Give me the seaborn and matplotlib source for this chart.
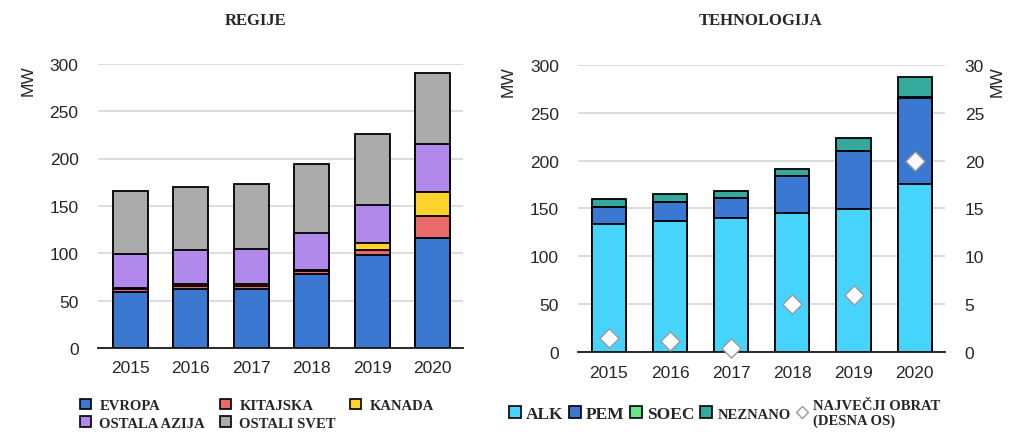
import numpy as np
import pandas as pd
import seaborn as sns
import matplotlib.pyplot as plt
from matplotlib.patches import Patch
from matplotlib.lines import Line2D

years = ['2015', '2016', '2017', '2018', '2019', '2020']

# Installed capacity by region (MW)
evropa = [59, 62, 62, 78, 98.5, 116.5]
kitajska = [3, 3, 3, 3, 5.3, 23.2]
kanada = [1, 2, 2, 1.5, 6.6, 25]
ostala_azija = [36.2, 36, 37, 38.3, 40.5, 50.3]
ostali_svet = [66, 66.5, 69, 73.6, 75, 75.6]

# Installed capacity by technology (MW)
alk = [134, 137, 140.5, 145.5, 149.5, 176]
pem = [18, 20, 20, 38, 60.8, 89]
soec = [0, 0, 0, 0, 0, 1]
neznano = [7.5, 7.7, 7.7, 7.7, 12.8, 21]

# Largest single plant (MW, right axis)
najvecji = [1.5, 1.2, 0.45, 5, 6, 20]

region_names = ['EVROPA', 'KITAJSKA', 'KANADA', 'OSTALA AZIJA', 'OSTALI SVET']
region_colors = ['#3B78D1', '#E86B6A', '#FDD22B', '#B189EB', '#ABABAB']
tech_names = ['ALK', 'PEM', 'SOEC', 'NEZNANO']
tech_colors = ['#46D4FD', '#3B78D1', '#67E38E', '#35AA9C']

sns.set_theme(style='white')
plt.rcParams['font.family'] = ['Liberation Sans', 'DejaVu Sans']

fig = plt.figure(figsize=(10.11, 4.35), dpi=100)
ax1 = fig.add_axes([0.097, 0.198, 0.361, 0.653])
ax2 = fig.add_axes([0.572, 0.1885, 0.363, 0.660])

text_col = '#262626'
grid_col = '#D9D9D9'


def stacked(ax, series, colors, width):
    df = pd.DataFrame(np.array(series).T, index=years)
    cum = df.cumsum(axis=1)
    # draw cumulative totals from the top down so lower segments overlay
    for i in range(len(series) - 1, -1, -1):
        sns.barplot(x=years, y=cum[i].values, color=colors[i], saturation=1,
                    edgecolor='black', linewidth=1.3, width=width, ax=ax,
                    zorder=2)


def style_axis(ax):
    ax.set_ylim(0, 300)
    ax.set_yticks(range(0, 301, 50))
    ax.yaxis.grid(True, color=grid_col, linewidth=1.3)
    ax.set_axisbelow(True)
    for s in ['top', 'left', 'right']:
        ax.spines[s].set_visible(False)
    ax.spines['bottom'].set_color('#1a1a1a')
    ax.spines['bottom'].set_linewidth(1.3)
    ax.tick_params(axis='both', length=0, labelsize=12.5, colors=text_col)
    ax.tick_params(axis='y', pad=14)
    ax.tick_params(axis='x', pad=9)
    ax.set_xlabel('')
    ax.set_ylabel('MW', loc='top', fontsize=12.5, color=text_col, labelpad=10)


stacked(ax1, [evropa, kitajska, kanada, ostala_azija, ostali_svet], region_colors, 0.58)
style_axis(ax1)
ax1.set_xlim(-0.53, 5.5)

stacked(ax2, [alk, pem, soec, neznano], tech_colors, 0.56)
style_axis(ax2)
ax2.set_xlim(-0.5, 5.5)

ax3 = ax2.twinx()
sns.scatterplot(x=np.arange(len(years)), y=najvecji, marker='D', s=95,
                color='white', edgecolor='#9A9A9A', linewidth=1.0,
                ax=ax3, zorder=5, clip_on=False)
ax3.set_ylim(0, 30)
ax3.set_yticks(range(0, 31, 5))
for s in ax3.spines.values():
    s.set_visible(False)
ax3.tick_params(axis='y', length=0, labelsize=12.5, colors=text_col, pad=14)
ax3.set_ylabel('MW', loc='top', fontsize=12.5, color=text_col, labelpad=4)
ax3.grid(False)

serif = ['Liberation Serif', 'DejaVu Serif']
fig.text(256 / 1011, 1 - 21 / 435, 'REGIJE', ha='center', va='center',
         fontsize=12, fontweight='bold', family=serif)
fig.text(761 / 1011, 1 - 21 / 435, 'TEHNOLOGIJA', ha='center', va='center',
         fontsize=12, fontweight='bold', family=serif)

# Region legend (row-major order through column-major filling)
order = [0, 3, 1, 4, 2]
h1 = [Patch(facecolor=region_colors[i], edgecolor='black', linewidth=1.2)
      for i in order]
fig.legend(h1, [region_names[i] for i in order], ncol=3,
           loc='upper left', bbox_to_anchor=(68 / 1011, 1 - 388 / 435),
           frameon=False, handlelength=0.75, handleheight=0.75,
           handletextpad=0.6, columnspacing=1.0, labelspacing=0.28,
           borderpad=0.3,
           prop={'family': serif, 'weight': 'bold', 'size': 10.5})

h2 = [Patch(facecolor=c, edgecolor='black', linewidth=1.2) for c in tech_colors]
h2.append(Line2D([], [], marker='D', linestyle='none', markersize=6,
                 markerfacecolor='white', markeredgecolor='#9A9A9A'))
leg2 = fig.legend(h2, tech_names + ['NAJVEČJI OBRAT\n(DESNA OS)'], ncol=5,
                  loc='upper left', bbox_to_anchor=(493 / 1011, 1 - 384 / 435),
                  frameon=False, handlelength=0.7, handleheight=0.7,
                  handletextpad=0.3, columnspacing=0.3,
                  prop={'family': serif, 'weight': 'bold', 'size': 12.5})
texts = leg2.get_texts()
texts[3].set_fontsize(10.5)
texts[4].set_fontsize(10.5)

fig.savefig('out.png', dpi=100, facecolor='white')
